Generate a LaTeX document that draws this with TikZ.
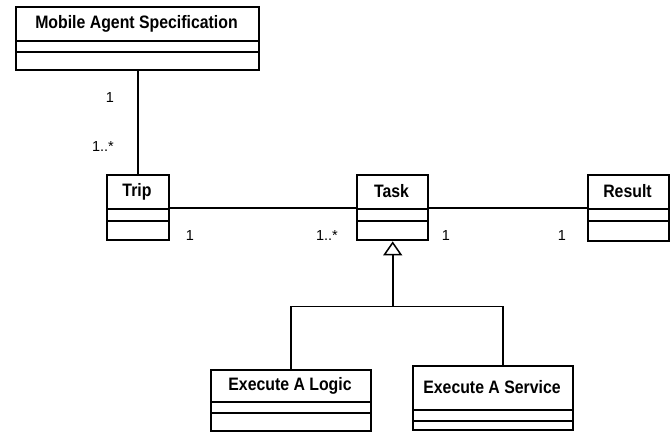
\documentclass[tikz,border=0pt]{standalone}
\usepackage{fontspec}
\setmainfont{Liberation Sans}
\newfontfamily\titlefont[FakeStretch=0.88]{Liberation Sans Bold}
\usetikzlibrary{arrows.meta,calc}
\tikzset{
  clsbox/.style={draw=black, line width=2.4pt, inner sep=0pt, anchor=north west},
  divider/.style={draw=black, line width=1.3pt},
  clstitle/.style={font=\titlefont\fontsize{18}{20}\selectfont, inner sep=0pt},
  conn/.style={draw=black, line width=1.6pt},
  mult/.style={font=\fontsize{14.5}{16}\selectfont, inner sep=0pt},
}
% \umlclass{name}{x1}{y1}{x2}{y2}{d1}{d2}{title}
\newcommand\umlclass[8]{%
  \pgfmathsetmacro\uw{#4-#2}\pgfmathsetmacro\uh{#5-#3}%
  \node[clsbox, minimum width=\uw pt, minimum height=\uh pt] (#1) at (#2,#3) {};
  \draw[divider] (#2,#6) -- (#4,#6);
  \draw[divider] (#2,#7) -- (#4,#7);
  \node[clstitle] (#1-t) at ({(#2+#4)/2},{(#3+#6)/2}) {#8};
}
\begin{document}
\begin{tikzpicture}[x=1pt,y=-1pt]
\useasboundingbox (0,0) rectangle (671,431);
\umlclass{mas}{15}{6}{258}{69}{41}{52}{Mobile Agent Specification}
\umlclass{trip}{106}{174}{168}{239}{209}{221}{Trip}
\umlclass{task}{356}{174}{427}{239}{209}{221}{Task}
\umlclass{result}{587}{174}{668}{240}{209}{221}{Result}
\umlclass{logic}{210}{369}{370}{430}{402}{413}{Execute A Logic}
\umlclass{service}{412}{365}{572}{429}{410}{421}{Execute A Service}
% associations
\draw[conn] (trip.north) -- (trip.north |- mas.south);
\draw[conn] (trip.east) -- (task.west);
\draw[conn] (task.east) -- (task.east -| result.west);
% generalization
\coordinate (j) at ($(task.south)+(0,65)$);
\coordinate (sv) at ($(service.north)+(10,0)$);
\draw[conn] (logic.north) |- (j) -| (sv);
\draw[conn, -{Triangle[open, width=19pt, length=14pt, line width=1.5pt]}] (j) -- (task.south);
% multiplicities
\node[mult] (m1) at (110,98) {1};
\node[mult] (m2) at (103,147) {1..*};
\node[mult] (m3) at (190,236) {1};
\node[mult] (m4) at (327,236) {1..*};
\node[mult] (m5) at (446,236) {1};
\node[mult] (m6) at (562,236) {1};
\end{tikzpicture}
\end{document}
